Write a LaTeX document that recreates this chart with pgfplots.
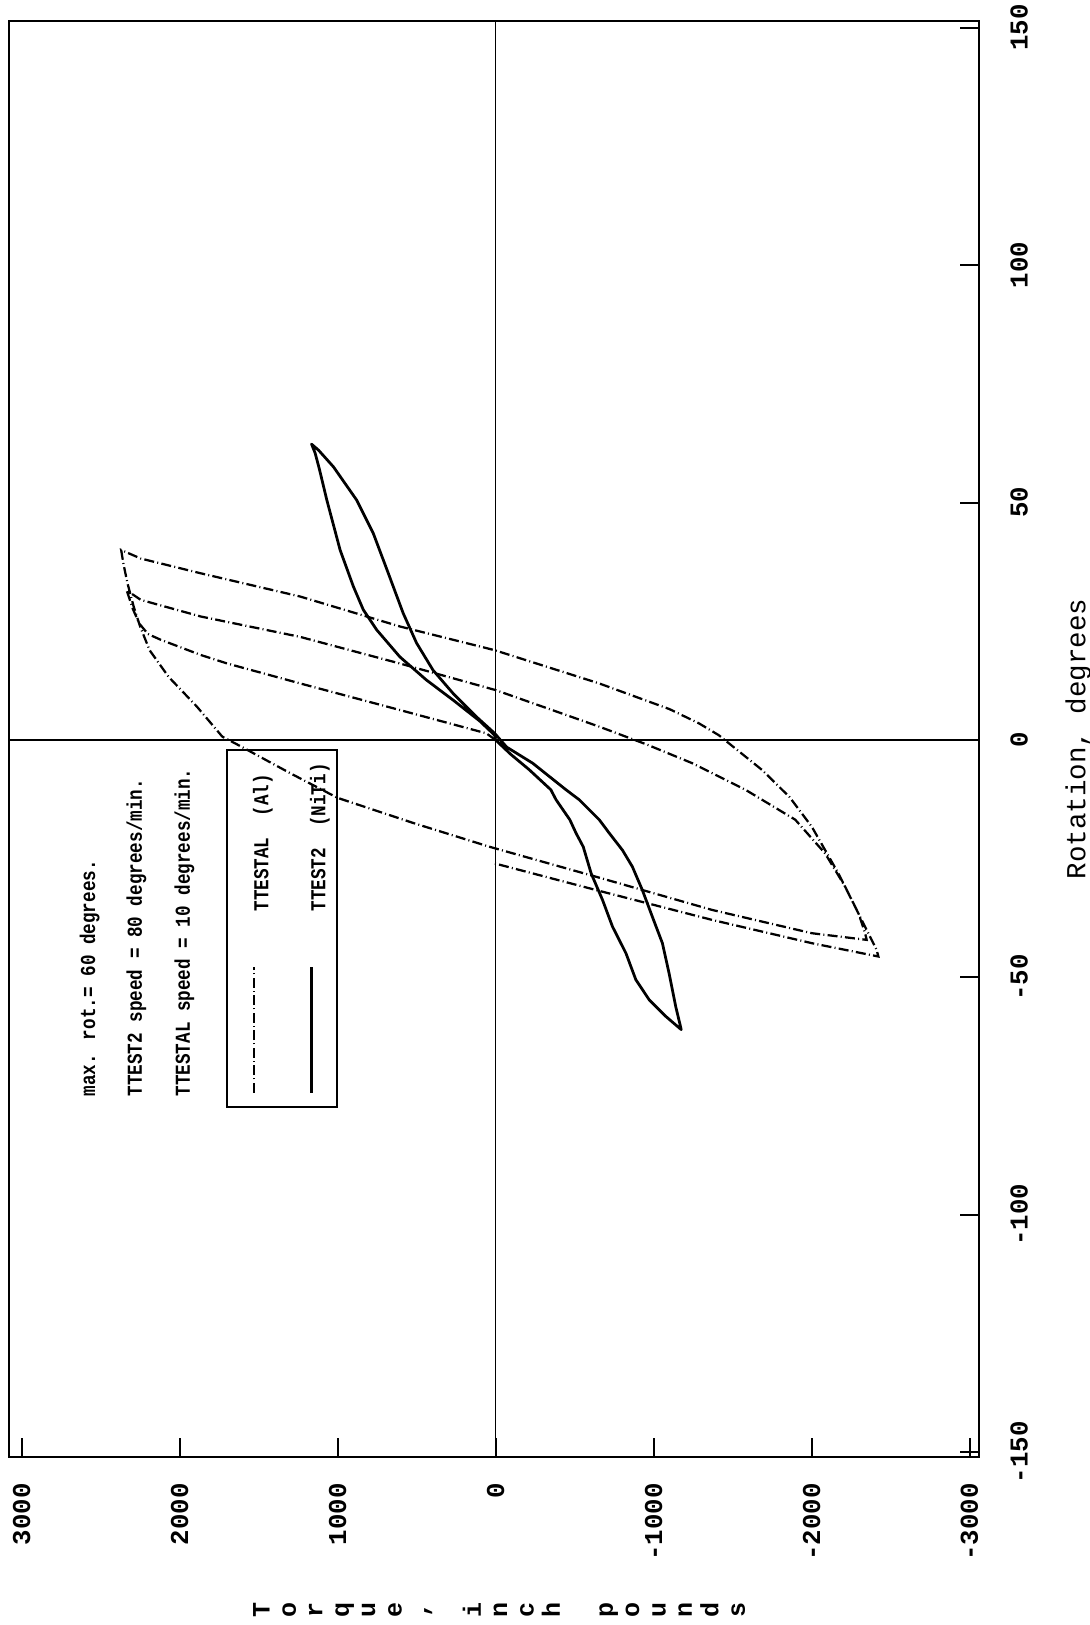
\documentclass[border=0pt]{standalone}
\usepackage{fontspec}
\setmainfont{Liberation Mono}
\newfontfamily\condfont{Liberation Mono}[FakeStretch=0.83]
\usepackage{pgfplots}
\pgfplotsset{compat=1.18}
\usepackage{pgfplotstable}

% Al specimen (TTESTAL): rotation (deg), torque (in-lb)
\pgfplotstableread{
R T
0 0
1.4 59
6.3 606
11.9 1237
16.1 1699
17.9 1867
21.1 2120
22.3 2200
24.5 2255
27.5 2295
30.0 2320
31.5 2335
29.5 2246
26.0 1867
21.7 1237
16.1 606
10.5 0
2.8 -656
-1.0 -960
-4.9 -1245
-10.5 -1582
-16.8 -1897
-23.9 -2086
-30.9 -2213
-36.5 -2297
-40.7 -2339
-42.1 -2349
-40.7 -2002
-35.8 -1371
-28.8 -635
-22.5 38
-17.5 520
-12.2 1000
-7.0 1300
-1.4 1610
0.7 1730
7.0 1890
13.3 2070
18.9 2190
23.9 2250
28.0 2290
33.0 2330
37.0 2355
40.0 2370
38.2 2246
35.1 1867
30.2 1237
23.9 606
18.9 6
11.9 -656
6.5 -1100
3.5 -1287
1.0 -1413
-6.3 -1686
-12.0 -1860
-18.3 -2002
-28.1 -2170
-37.9 -2317
-44.2 -2412
-45.6 -2423
-42.8 -2002
-37.9 -1371
-31.6 -635
-26.0 6
}\alTable

% NiTi specimen (TTEST2)
\pgfplotstableread{
R T
0 0
1.0 6
4.0 101
8.4 269
12.6 437
17.5 606
23.2 753
27.4 837
32.3 900
40.0 984
50.5 1068
57.0 1115
60.4 1142
62.3 1165
61.0 1120
57.5 1026
50.5 879
43.5 774
35.1 679
26.7 585
20.4 500
14.7 396
9.8 269
4.9 122
1.4 6
-1.5 -70
-4.9 -235
-10.5 -446
-12.6 -530
-16.8 -656
-19.6 -719
-23.2 -803
-26.7 -866
-31.6 -929
-37.2 -992
-42.8 -1056
-49.1 -1098
-56.1 -1140
-60.4 -1171
-61.0 -1175
-58.2 -1077
-54.7 -972
-50.5 -888
-44.9 -825
-39.3 -740
-33.7 -677
-28.1 -605
-22.5 -555
-19.6 -509
-16.8 -470
-12.6 -383
-10.5 -350
-6.3 -214
-3.0 -95
0 0
}\nitiTable

\begin{document}
\begin{tikzpicture}[rotate=90, transform shape]
\path[use as bounding box] (-67.2pt,-44.4pt) rectangle (582.8pt,391.6pt);
\begin{axis}[
  at={(0pt,0pt)}, anchor=south west,
  scale only axis, width=574.4pt, height=388pt,
  xmin=-151, xmax=151.4, ymin=-3060, ymax=3080,
  clip=false,
  xtick={-150,-100,-50,0,50,100,150},
  xticklabels={-150,-100,-50,0,50,100,150},
  ytick={-3000,-2000,-1000,0,1000,2000,3000},
  yticklabels={-3000,-2000,-1000,0,1000,2000,3000},
  tick align=inside, tick pos=left, major tick length=7.6pt,
  axis line style={line width=0.8pt},
  every tick/.style={black, line width=0.8pt},
  ticklabel style={font=\fontsize{10.3}{12}\selectfont\bfseries},
  xticklabel style={yshift=-9pt},
  yticklabel style={xshift=-7pt},
  extra x ticks={0}, extra x tick labels={},
  extra y ticks={0}, extra y tick labels={},
  extra tick style={grid=major, major grid style={black, line width=0.6pt}},
  xlabel={Rotation, degrees},
  xlabel style={at={(axis description cs:0.5,0)}, anchor=base, yshift=-42.5pt, inner sep=0pt, font=\fontsize{11}{13}\selectfont},
  legend style={at={(rel axis cs:0.243,0.661)}, anchor=south west, draw=black, line width=0.8pt, fill=none,
    inner xsep=5.2pt, inner ysep=2.6pt, row sep=6.8pt, column sep=21.5pt,
    font=\condfont\bfseries\fontsize{8.5}{10}\selectfont,
    nodes={inner sep=0pt, text height=14pt, text depth=2pt},
    cells={anchor=base west}},
  legend image code/.code={\draw[#1] (0pt,5.6pt) -- (50.4pt,5.6pt);},
]
\addplot[black, line width=0.9pt, dash pattern=on 4pt off 1.3pt on 0.4pt off 1.3pt, mark=none] table[x=R, y=T] {\alTable};
\addlegendentry{TTESTAL~~(Al)}
\addplot[black, line width=1.1pt, mark=none, line join=round] table[x=R, y=T] {\nitiTable};
\addlegendentry{TTEST2~~(NiTi)}

\node[anchor=base west, inner sep=0pt, font=\condfont\bfseries\fontsize{8.5}{10}\selectfont] at (rel axis cs:0.2507,0.9113) {max. rot.= 60 degrees.};
\node[anchor=base west, inner sep=0pt, font=\condfont\bfseries\fontsize{8.5}{10}\selectfont] at (rel axis cs:0.2507,0.8629) {TTEST2 speed = 80 degrees/min.};
\node[anchor=base west, inner sep=0pt, font=\condfont\bfseries\fontsize{8.5}{10}\selectfont] at (rel axis cs:0.2507,0.8134) {TTESTAL speed = 10 degrees/min.};

\node[anchor=center, align=center, inner sep=0pt, font=\fontsize{10}{10.56}\selectfont\bfseries] at (rel axis cs:-0.1065,0.4948)
  {T\\o\\r\\q\\u\\e\\,\\\mbox{}\\i\\n\\c\\h\\\mbox{}\\p\\o\\u\\n\\d\\s};
\end{axis}
\end{tikzpicture}
\end{document}
